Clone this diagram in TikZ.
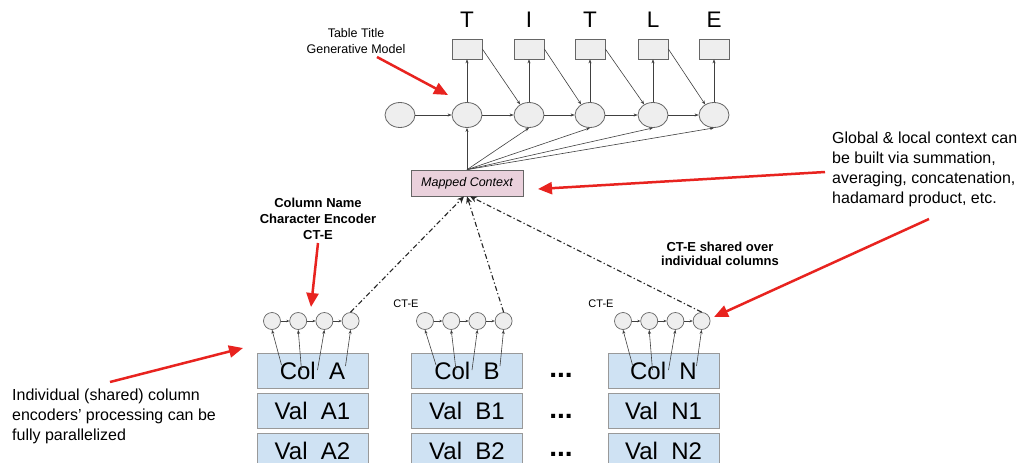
\documentclass[tikz,border=0pt]{standalone}
\usepackage{fontspec}
\setmainfont{Liberation Sans}
\usetikzlibrary{shapes.geometric,arrows.meta,calc}
\definecolor{nodegray}{HTML}{EEEEEE}
\definecolor{edgegray}{HTML}{666666}
\definecolor{tblue}{HTML}{CFE2F3}
\definecolor{tborder}{HTML}{999999}
\definecolor{mcpink}{HTML}{EAD1DC}
\definecolor{annred}{HTML}{E8231F}
\begin{document}
\begin{tikzpicture}[x=1pt,y=-1pt,
 rnn/.style={ellipse,draw=edgegray,fill=nodegray,minimum width=30pt,minimum height=25pt,inner sep=0pt,line width=0.8pt},
 outbox/.style={rectangle,draw=edgegray,fill=nodegray,minimum width=30pt,minimum height=20pt,inner sep=0pt,line width=0.7pt},
 chr/.style={circle,draw=edgegray,fill=nodegray,minimum size=17pt,inner sep=0pt,line width=0.7pt},
 cell/.style={rectangle,draw=tborder,fill=tblue,minimum width=111pt,minimum height=35pt,inner sep=0pt,line width=0.8pt,font=\fontsize{24}{26}\selectfont},
 letter/.style={font=\fontsize{22.5}{24}\selectfont,inner sep=0pt},
 flow/.style={draw=black!75,line width=0.6pt,-{Stealth[length=4pt,width=3pt]}},
 tinyflow/.style={draw=black!75,line width=0.6pt,-{Stealth[length=3pt,width=2.5pt]}},
 ddot/.style={draw=black!85,line width=1.1pt,dash pattern=on 5pt off 2.5pt on 1.2pt off 2.5pt,-{Stealth[length=7pt,width=6pt]}},
 redarrow/.style={draw=annred,line width=2.5pt,-{Triangle[length=14pt,width=12pt]}},
 note/.style={font=\fontsize{16}{20}\selectfont,align=left,inner sep=0pt},
 small/.style={font=\fontsize{12.5}{16}\selectfont,align=center,inner sep=0pt},
 boldnote/.style={font=\bfseries\fontsize{13}{16}\selectfont,align=center,inner sep=0pt},
 ctelabel/.style={font=\fontsize{11}{12}\selectfont,inner sep=0pt},
 dotsstyle/.style={font=\bfseries\fontsize{28}{30}\selectfont,inner sep=0pt,anchor=base}
]
\useasboundingbox (0,0) rectangle (1023,463);
\fill[white] (0,0) rectangle (1023,463);

% top RNN
\node[rnn] (e0) at (400,115) {};
\node[rnn] (e1) at (467,115) {};
\node[rnn] (e2) at (529,115) {};
\node[rnn] (e3) at (590,115) {};
\node[rnn] (e4) at (653,115) {};
\node[rnn] (e5) at (714,115) {};
\foreach \i/\x/\L in {1/467/T,2/529/I,3/590/T,4/653/L,5/714/E}{
  \node[outbox] (b\i) at (\x,49) {};
  \node[letter] (l\i) at (\x,20) {\L};
}
\foreach \i/\j in {0/1,1/2,2/3,3/4,4/5}{
  \draw[flow] (e\i.east) -- (e\j.west);
}
\foreach \i in {1,...,5}{
  \draw[flow] (e\i.north) -- (b\i.south);
}
\foreach \i/\j in {1/2,2/3,3/4,4/5}{
  \draw[flow] (b\i.east) -- (e\j.130);
}

% mapped context
\node[rectangle,draw=edgegray,fill=mcpink,minimum width=112pt,minimum height=26pt,inner sep=0pt,line width=0.7pt,font=\itshape\fontsize{12.5}{14}\selectfont] (mc) at (467,183) {Mapped Context};
\foreach \i in {1,...,5}{
  \draw[flow] (mc.north) -- (e\i.south);
}

% encoders
\foreach \c/\x in {A/272,B/425,N/623}{
  \foreach \k in {1,...,4}{
    \node[chr] (\c\k) at ({\x+(\k-1)*26.2},321) {};
  }
  \foreach \k/\m in {1/2,2/3,3/4}{
    \draw[tinyflow] (\c\k.east) -- (\c\m.west);
  }
}
\node[ctelabel] (cteB) at (406,304) {CT-E};
\node[ctelabel] (cteN) at (601,304) {CT-E};

% tables
\foreach \c/\x in {A/312.5,B/467,N/663.5}{
  \node[cell] (col\c) at (\x,371) {Col~~\c};
  \node[cell] (v1\c) at (\x,410.5) {Val~~\c1};
  \node[cell] (v2\c) at (\x,451) {Val~~\c2};
  \coordinate (s\c1) at ($(col\c)+(-31,-6)$);
  \coordinate (s\c2) at ($(col\c)+(-11,-1)$);
  \coordinate (s\c3) at ($(col\c)+(5,-1)$);
  \coordinate (s\c4) at ($(col\c)+(33,-5)$);
  \foreach \k in {1,...,4}{
    \draw[flow] (s\c\k) -- (\c\k.south);
  }
}
\node[dotsstyle] (d1) at (561,377) {...};
\node[dotsstyle] (d2) at (561,418) {...};
\node[dotsstyle] (d3) at (561,456) {...};

% dash-dot
\draw[ddot] (A4.north) -- ($(mc.south)+(-3,0)$);
\draw[ddot] (B4.north) -- (mc.south);
\draw[ddot] (N4.north) -- ($(mc.south)+(3,0)$);

% annotations
\node[small] (tt) at (356,41) {Table Title\\Generative Model};
\node[boldnote] (cn) at (318,219) {Column Name\\Character Encoder\\CT-E};
\node[boldnote,font=\bfseries\fontsize{13}{14}\selectfont] (sh) at (720,254) {CT-E shared over\\individual columns};
\node[note,anchor=west] (gl) at (832,169) {Global \& local context can\\be built via summation,\\averaging, concatenation,\\hadamard product, etc.};
\node[note,anchor=west] (ind) at (12,416) {Individual (shared) column\\encoders’ processing can be\\fully parallelized};

\coordinate (r1s) at (377,57);  \coordinate (r1e) at (448,95);
\coordinate (r2s) at (825,172); \coordinate (r2e) at (538,189);
\coordinate (r3s) at (929,219); \coordinate (r3e) at (714,317);
\coordinate (r4s) at (318,243); \coordinate (r4e) at (311,307);
\coordinate (r5s) at (110,382); \coordinate (r5e) at (243,348);
\foreach \k in {1,...,5}{
  \draw[redarrow] (r\k s) -- (r\k e);
}
\end{tikzpicture}
\end{document}
